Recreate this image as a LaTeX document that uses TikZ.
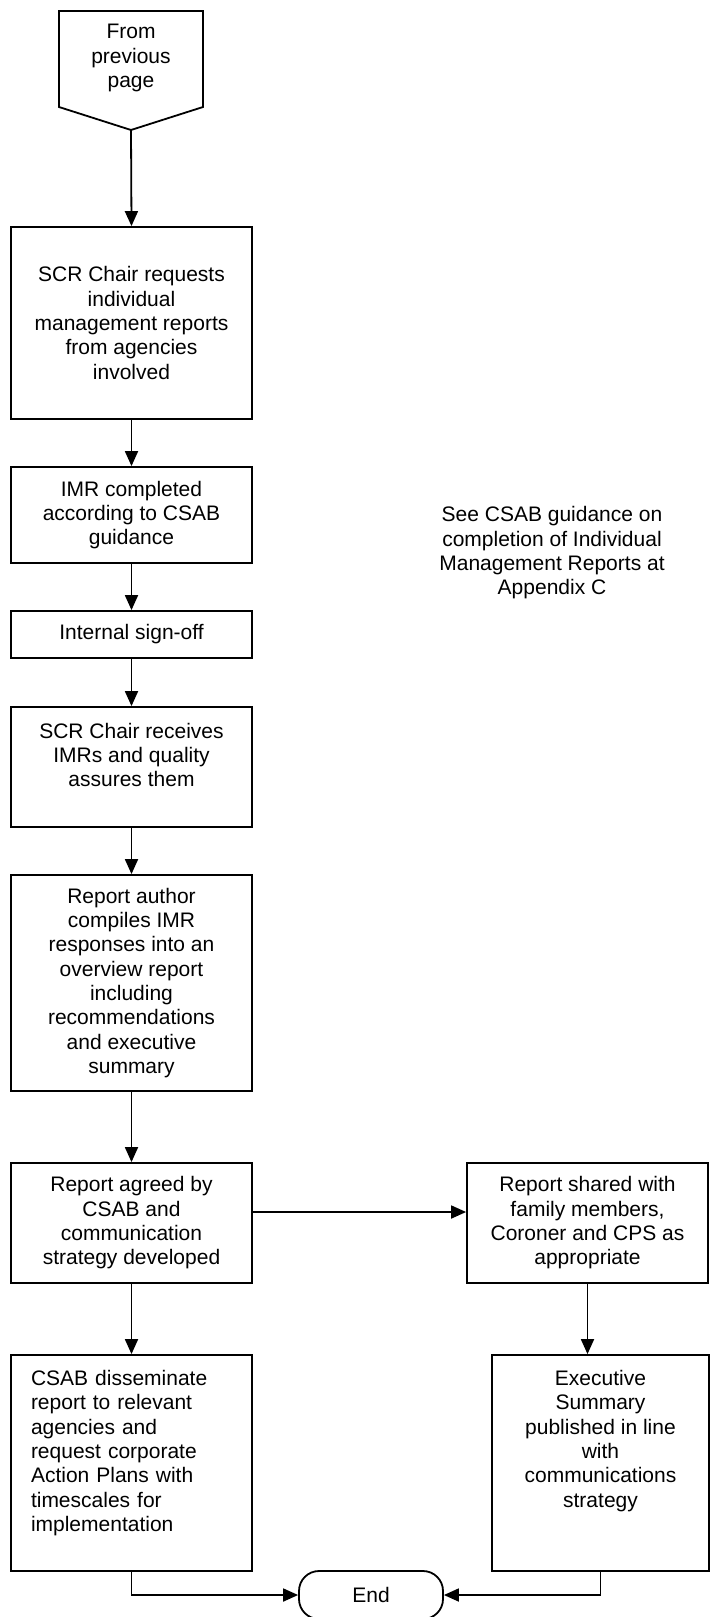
\documentclass[tikz,border=0pt]{standalone}
\usepackage{fontspec}
\setmainfont{Liberation Sans}
\usetikzlibrary{arrows.meta}
\begin{document}
\begin{tikzpicture}[x=1pt,y=-1pt,
  every node/.style={font=\fontsize{21pt}{24.3pt}\selectfont},
  stepbox/.style={draw, line width=1.8pt, inner sep=0pt, align=center},
  link/.style={line width=1.8pt, -{Triangle[length=15pt,width=13pt]}},
  leftcol/.style={stepbox, minimum width=241pt},
]
\useasboundingbox (0,0) rectangle (722,1617);

% off-page connector at the top
\draw[line width=1.8pt, line join=miter] (59,11) -- (203,11) -- (203,107) -- (131,130) -- (59,107) -- cycle;
\node[align=center] (from) at (131,58) {From\\previous\\page};
\coordinate (fromtip) at (131,130);

% main column
\node[leftcol, minimum height=192pt] (b1) at (131.5,323)
  {SCR Chair requests\\individual\\management reports\\from agencies\\involved};
\node[leftcol, minimum height=96pt] (b2) at (131.5,515)
  {IMR completed\\according to CSAB\\guidance};
\node[leftcol, minimum height=47pt] (b3) at (131.5,634.5)
  {Internal sign-off};
\node[leftcol, minimum height=120pt] (b4) at (131.5,767)
  {SCR Chair receives\\IMRs and quality\\assures them\\\mbox{}};
\node[leftcol, minimum height=216pt] (b5) at (131.5,983)
  {Report author\\compiles IMR\\responses into an\\overview report\\including\\recommendations\\and executive\\summary};
\node[leftcol, minimum height=120pt] (b6) at (131.5,1223)
  {Report agreed by\\CSAB and\\communication\\strategy developed};
\node[leftcol, minimum height=216pt, text width=201pt, align=left] (b7) at (131.5,1463)
  {CSAB disseminate\\report to relevant\\agencies and\\request corporate\\Action Plans with\\timescales for\\implementation\\\mbox{}};

% right column
\node[stepbox, minimum width=241pt, minimum height=120pt] (r1) at (587.5,1223)
  {Report shared with\\family members,\\Coroner and CPS as\\appropriate};
\node[stepbox, minimum width=217pt, minimum height=216pt] (r2) at (600.5,1463)
  {Executive\\Summary\\published in line\\with\\communications\\strategy\\\mbox{}\\\mbox{}};

% terminator
\node[draw, line width=1.8pt, rounded corners=20pt, minimum width=144pt, minimum height=48pt, inner sep=0pt] (end) at (371,1595) {End};

% side note
\node[align=center] (note) at (552,553) {See CSAB guidance on\\completion of Individual\\Management Reports at\\Appendix C};

% connectors
\draw[link] (fromtip) -- (b1.north);
\draw[link] (b1.south) -- (b2.north);
\draw[link] (b2.south) -- (b3.north);
\draw[link] (b3.south) -- (b4.north);
\draw[link] (b4.south) -- (b5.north);
\draw[link] (b5.south) -- (b6.north);
\draw[link] (b6.south) -- (b7.north);
\draw[link] ([yshift=11pt]b6.east) -- ([yshift=11pt]r1.west);
\draw[link] (r1.south) -- (r1.south |- r2.north);
\draw[link] (b7.south) |- (end.west);
\draw[link] (r2.south) |- (end.east);
\end{tikzpicture}
\end{document}
